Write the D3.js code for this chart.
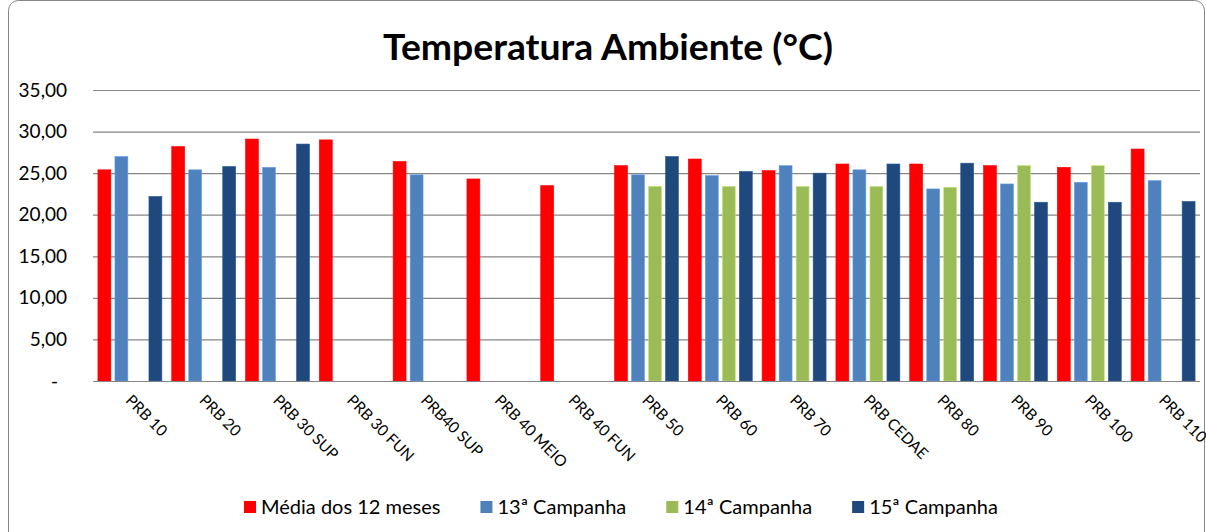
<!DOCTYPE html>
<html>
<head>
<meta charset="utf-8">
<script src="https://cdn.jsdelivr.net/npm/d3@7"></script>
<style>
  body { margin: 0; background: #fff; }
  svg { display: block; font-family: Lato, "Open Sans", sans-serif; }
</style>
</head>
<body>
<svg id="chart"></svg>
<script>
// Data
const categories = ["PRB 10", "PRB 20", "PRB 30 SUP", "PRB 30 FUN", "PRB40 SUP", "PRB 40 MEIO", "PRB 40 FUN",
  "PRB 50", "PRB 60", "PRB 70", "PRB CEDAE", "PRB 80", "PRB 90", "PRB 100", "PRB 110"];
const media12 = [25.4, 28.2, 29.1, 29.0, 26.4, 24.3, 23.5, 25.9, 26.7, 25.3, 26.1, 26.1, 25.9, 25.7, 27.9];
const camp13 = [27.0, 25.4, 25.7, null, 24.8, null, null, 24.8, 24.7, 25.9, 25.4, 23.1, 23.7, 23.9, 24.1];
const camp14 = [null, null, null, null, null, null, null, 23.4, 23.4, 23.4, 23.4, 23.3, 25.9, 25.9, null];
const camp15 = [22.2, 25.8, 28.5, null, null, null, null, 27.0, 25.2, 25.0, 26.1, 26.2, 21.5, 21.5, 21.6];
const seriesNames = ["Média dos 12 meses", "13ª Campanha", "14ª Campanha", "15ª Campanha"];
const seriesValues = [media12, camp13, camp14, camp15];
const seriesColors = ["#FF0000", "#4F81BD", "#9BBB59", "#1F497D"];
const yTicks = [0, 5, 10, 15, 20, 25, 30, 35];

const width = 1206, height = 532;
const margin = { top: 90, right: 6, bottom: 151, left: 93 };
const plotW = width - margin.left - margin.right;
const plotH = height - margin.top - margin.bottom;

const svg = d3.select("#chart").attr("width", width).attr("height", height);

// chart frame (rounded, runs off the bottom edge)
svg.append("rect")
  .attr("x", 8.5).attr("y", 0.5)
  .attr("width", 1196).attr("height", 560)
  .attr("rx", 10)
  .attr("fill", "none")
  .attr("stroke", "#868686");

// title
svg.append("text")
  .attr("x", 608)
  .attr("y", 60)
  .attr("text-anchor", "middle")
  .attr("font-size", 36)
  .attr("font-weight", "bold")
  .attr("textLength", 450)
  .attr("lengthAdjust", "spacingAndGlyphs")
  .attr("fill", "#000")
  .text("Temperatura Ambiente (°C)");

const g = svg.append("g").attr("transform", `translate(${margin.left},${margin.top})`);

// scales
const x0 = d3.scaleBand().domain(categories).range([0, plotW]).paddingInner(0).paddingOuter(0);
const x1 = d3.scaleBand().domain(seriesNames).range([0, x0.bandwidth()])
  .paddingInner(0.24).paddingOuter(0.29);
const y = d3.scaleLinear().domain([0, 35]).range([plotH, 0]);

// y axis with gridlines
const yAxis = g.append("g")
  .call(d3.axisLeft(y).tickValues(yTicks).tickSize(-plotW).tickPadding(26)
    .tickFormat((d) => (d === 0 ? "-" : d3.format(".2f")(d).replace(".", ","))));
yAxis.select(".domain").remove();
yAxis.selectAll(".tick line").attr("stroke", "#868686").attr("stroke-width", 1.2);
yAxis.selectAll(".tick text")
  .attr("font-size", 19)
  .attr("font-family", "Lato, sans-serif")
  .attr("fill", "#000")
  .attr("dx", (d) => (d === 0 ? -9 : 0));

// bars
const rows = categories.map((c, i) => ({ cat: c, vals: seriesValues.map((s) => s[i]) }));
const groups = g.selectAll("g.cat")
  .data(rows)
  .enter()
  .append("g")
  .attr("class", "cat")
  .attr("transform", (d) => `translate(${x0(d.cat)},0)`);

groups.selectAll("rect")
  .data((d) => d.vals.map((v, j) => ({ name: seriesNames[j], v: v, color: seriesColors[j] })).filter((e) => e.v != null))
  .enter()
  .append("rect")
  .attr("x", (d) => x1(d.name))
  .attr("y", (d) => y(d.v))
  .attr("width", x1.bandwidth())
  .attr("height", (d) => y(0) - y(d.v))
  .attr("fill", (d) => d.color)
  .attr("stroke", (d) => d3.color(d.color).brighter(0.6))
  .attr("stroke-width", 0.6);

// x axis line and rotated labels
g.append("line")
  .attr("x1", 0).attr("x2", plotW)
  .attr("y1", plotH + 0.5).attr("y2", plotH + 0.5)
  .attr("stroke", "#868686").attr("stroke-width", 1.2);

g.selectAll("text.xlab")
  .data(categories)
  .enter()
  .append("text")
  .attr("class", "xlab")
  .attr("font-size", 15.5)
  .attr("fill", "#000")
  .attr("transform", (d) => `translate(${x0(d) + x0.bandwidth() / 2 + 3},${plotH + 12}) rotate(45)`)
  .attr("dy", "0.75em")
  .text((d) => d);

// legend
const legend = svg.append("g").attr("transform", "translate(0,514)");
const items = legend.selectAll("g.item")
  .data(seriesNames)
  .enter()
  .append("g")
  .attr("class", "item");
items.append("rect")
  .attr("y", -13)
  .attr("width", 12).attr("height", 12)
  .attr("fill", (d, i) => seriesColors[i]);
items.append("text")
  .attr("x", 17)
  .attr("font-size", 20)
  .attr("fill", "#000")
  .text((d) => d);

let lx = 0;
const offsets = [];
items.each(function () {
  offsets.push(lx);
  const w = d3.select(this).select("text").node().getComputedTextLength();
  lx += 17 + w + 40;
});
const totalW = lx - 40;
const startX = 621 - totalW / 2;
items.attr("transform", (d, i) => `translate(${startX + offsets[i]},0)`);
</script>
</body>
</html>
